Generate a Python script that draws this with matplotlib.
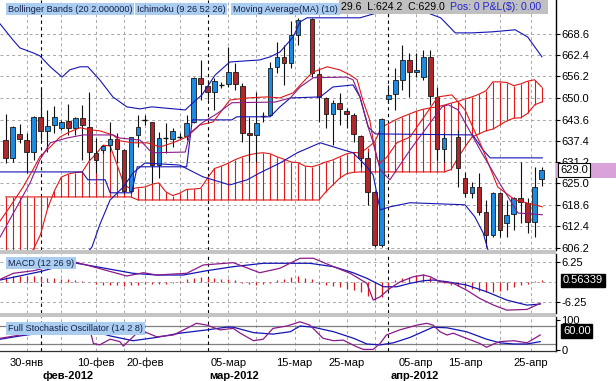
import numpy as np
import matplotlib
matplotlib.use("Agg")
import matplotlib.pyplot as plt
from matplotlib.patches import Rectangle
from matplotlib.transforms import blended_transform_factory

plt.rcParams['font.family'] = ['Liberation Sans', 'DejaVu Sans']

W, H = 616, 381

# ---------------- candles (slot = session index, 43 and 64 empty) ----------------
c_slot = list(range(0, 43)) + list(range(44, 64)) + list(range(65, 78))
c_open = [637.6, 632.4, 639.4, 637.6, 634.1, 644.4, 640.3, 642.0, 641.2, 643.2,
          641.2, 644.1, 641.4, 633.9, 634.7, 636.2, 637.9, 634.7, 622.8, 639.1,
          643.5, 642.9, 630.3, 638.2, 637.9, 638.5, 638.8, 642.9, 655.8, 653.4,
          651.7, 653.7, 654.0, 657.5, 653.4, 639.7, 639.1, 644.7, 644.9, 658.9,
          661.9, 660.1, 668.3,
          673.0, 656.9, 649.9, 645.2, 648.5, 646.1, 644.9, 638.8, 632.4, 622.5,
          607.0, 649.6, 651.1, 655.2, 661.0, 657.5, 656.0, 661.9, 650.2, 635.0,
          638.5, 626.6, 622.2, 623.9, 616.6, 609.9, 622.2, 613.4, 616.0, 620.7,
          619.2, 613.7, 626.3]
c_close = [632.4, 641.4, 637.9, 634.1, 644.4, 640.3, 641.7, 644.4, 642.9, 641.2,
           644.1, 642.0, 634.1, 631.8, 635.9, 637.9, 635.0, 622.8, 638.5, 641.4,
           643.5, 630.3, 638.2, 638.2, 640.3, 638.5, 642.6, 655.8, 654.0, 651.7,
           654.9, 653.7, 657.5, 654.0, 639.7, 639.1, 642.6, 644.7, 658.7, 661.9,
           660.1, 668.3, 672.7,
           657.2, 650.2, 645.2, 648.5, 646.7, 645.2, 639.4, 632.4, 622.5, 607.0,
           643.8, 650.8, 655.2, 661.0, 657.5, 658.1, 661.9, 650.5, 635.0, 638.2,
           629.5, 622.2, 623.9, 616.6, 609.9, 622.2, 611.4, 615.7, 620.7, 619.5,
           613.7, 623.9, 629.0]
c_high = [645.2, 641.7, 642.3, 639.7, 644.7, 652.5, 646.4, 647.6, 643.5, 648.2,
          644.4, 647.9, 651.7, 638.2, 636.2, 642.9, 639.7, 634.9, 638.5, 644.9,
          645.0, 643.0, 640.0, 642.6, 641.2, 639.7, 644.9, 656.0, 661.0, 655.2,
          655.8, 654.6, 664.8, 660.1, 654.3, 644.4, 651.7, 645.8, 660.4, 666.3,
          665.4, 672.4, 673.3,
          673.1, 658.7, 650.2, 649.3, 651.4, 647.0, 645.5, 639.1, 634.1, 622.6,
          643.9, 653.7, 658.7, 665.4, 663.1, 663.1, 663.9, 663.9, 653.1, 639.7,
          640.6, 628.3, 625.4, 628.0, 620.1, 622.5, 622.5, 620.1, 621.0, 631.2,
          620.7, 629.8, 629.6]
c_low = [630.9, 631.2, 636.8, 628.0, 631.8, 637.6, 634.1, 639.7, 640.6, 639.1,
         639.1, 631.8, 631.8, 628.0, 633.9, 634.1, 630.9, 622.2, 622.2, 635.6,
         642.0, 625.1, 626.6, 633.9, 635.6, 637.6, 637.6, 642.6, 649.3, 649.3,
         646.4, 652.8, 653.1, 652.2, 637.1, 631.2, 631.2, 642.9, 644.7, 657.2,
         653.7, 658.7, 665.4,
         656.0, 642.9, 641.2, 636.2, 642.0, 641.2, 637.1, 629.8, 618.7, 606.4,
         606.4, 648.5, 646.4, 652.2, 650.2, 656.0, 655.2, 647.9, 631.8, 631.2,
         623.9, 621.0, 620.7, 615.7, 606.4, 609.3, 609.3, 609.3, 611.4, 613.4,
         610.5, 609.3, 624.2]

# ---------------- Ichimoku cloud, one value per slot 0..77 ----------------
span_a = [601.3, 601.6, 602.0, 603.5, 605.8, 610.0, 617.5, 622.8, 626.8, 627.7,
          628.1, 628.3, 631.5, 633.6, 636.1, 635.9, 630.4, 624.6, 623.3, 623.7,
          623.9, 624.7, 625.1, 622.5, 621.4, 622.1, 623.2, 623.3, 623.5, 626.5,
          629.3, 630.0, 630.9, 631.9, 632.7, 633.3, 633.7, 633.9, 633.6, 632.7,
          632.0, 631.2, 631.0, 630.0, 629.8, 630.4, 631.2, 631.8, 632.7, 633.6,
          634.0, 633.8, 635.4, 637.0, 641.4, 642.4, 643.5, 644.4, 645.2, 646.0,
          646.6, 647.0, 647.3, 647.8, 648.4, 648.9, 649.6, 650.2, 651.0, 652.0,
          654.6, 654.6, 654.4, 653.5, 654.0, 654.8, 655.2, 653.1]
span_b = [621.0, 621.0, 621.0, 621.0, 621.0, 621.0, 621.0, 621.0, 621.0, 621.0,
          621.0, 621.0, 621.0, 621.0, 621.0, 621.0, 621.0, 621.0, 621.0, 620.1,
          620.1, 620.1, 620.1, 620.1, 620.1, 620.1, 620.1, 620.1, 620.1, 620.1,
          620.1, 620.1, 620.1, 620.1, 620.1, 620.1, 620.1, 620.1, 620.1, 620.1,
          620.1, 620.1, 620.1, 620.1, 620.1, 620.1, 622.5, 624.5, 626.5, 627.8,
          628.2, 628.3, 628.3, 628.3, 628.3, 628.3, 628.3, 628.3, 628.3, 628.3,
          628.3, 628.3, 628.3, 628.3, 629.0, 632.5, 635.6, 638.5, 639.4, 640.3,
          640.8, 642.0, 643.2, 644.0, 644.1, 645.4, 647.9, 648.7]

# ---------------- indicator lines (slot, value) ----------------
bb_up_s = [-0.8, 1.05, 2.05, 3.9, 4.9, 6.4, 8.1, 9.2, 10.7, 11.8, 13.5, 15.4, 17.4, 19.3,
           21.0, 25.8, 26.9, 28.2, 30.1, 32.2, 36.5, 38.0, 39.4, 41.3, 42.3, 43.3, 50.9,
           53.8, 56.6, 59.5, 62.5, 64.6, 67.0, 69.9, 73.2, 75.0, 77.05]
bb_up_v = [671.5, 666.8, 664.5, 663.1, 662.2, 659.0, 656.0, 658.1, 659.0, 659.0, 655.2,
           650.2, 647.3, 646.7, 647.3, 646.4, 648.5, 650.8, 656.6, 660.4, 661.0, 661.9,
           663.3, 667.7, 672.1, 673.3, 673.3, 675.0, 676.2, 675.6, 673.3, 668.9, 668.9,
           669.2, 669.8, 667.7, 661.9]
bb_lo_s = [11.8, 12.4, 13.5, 15.0, 16.9, 18.3, 20.0, 25.0, 28.3, 32.2, 34.7, 36.5, 39.4,
           41.9, 45.2, 47.6, 49.9, 51.9, 52.8, 53.8, 55.2, 58.1, 66.0, 67.4, 68.6, 69.3, 69.9]
bb_lo_v = [604.9, 606.4, 612.8, 620.1, 623.9, 628.0, 630.9, 630.3, 626.9, 624.5, 626.0,
           628.0, 630.9, 633.9, 636.8, 635.3, 633.9, 629.8, 627.4, 617.2, 618.1, 619.3,
           618.7, 615.2, 610.5, 605.5, 602.0]
kijun_s = [-0.8, 11.0, 11.8, 14.3, 15.0, 18.1, 18.9, 26.0, 26.8, 32.5, 33.2, 38.0, 39.4,
           40.9, 45.2, 47.0, 49.9, 50.9, 52.1, 53.1, 67.1, 68.6, 69.6, 77.1]
kijun_v = [628.3, 628.3, 626.0, 626.0, 622.2, 622.2, 629.8, 629.8, 643.5, 643.5, 644.4,
           644.4, 647.3, 649.9, 650.2, 653.1, 653.7, 650.2, 641.4, 639.4, 639.1, 634.7,
           632.4, 632.4]
ma10_s = [-0.8, 0.6, 2.5, 3.9, 4.9, 6.4, 7.8, 9.2, 10.7, 12.1, 13.5, 15.4, 16.4, 18.3,
          20.3, 22.2, 24.0, 26.0, 27.9, 29.8, 32.2, 34.7, 37.5, 39.4, 41.3, 43.3, 44.2,
          46.2, 48.0, 49.5, 50.5, 51.3, 52.3, 52.8, 53.4, 53.8, 54.8, 56.2, 58.1, 62.1,
          64.1, 66.0, 68.4, 70.7, 73.2, 77.1]
ma10_v = [614.0, 618.1, 623.9, 628.9, 632.7, 635.6, 638.5, 640.0, 641.2, 640.6, 640.3,
          639.1, 637.4, 636.8, 636.8, 635.6, 636.8, 638.5, 642.0, 642.9, 649.3, 649.9,
          650.2, 649.9, 651.4, 655.8, 657.5, 659.0, 658.1, 656.6, 655.2, 649.3, 643.5,
          637.6, 631.8, 630.9, 632.7, 636.8, 638.5, 650.2, 650.8, 646.4, 635.6, 623.9,
          620.1, 618.1]
tenkan_s = [-0.8, 1.6, 3.5, 4.9, 6.4, 8.8, 11.1, 15.4, 16.4, 19.3, 21.0, 25.8, 26.5,
            28.2, 30.5, 32.5, 38.7, 40.9, 42.3, 44.2, 49.0, 49.9, 50.9, 51.9, 52.8, 53.8,
            55.2, 58.1, 62.7, 63.6, 65.0, 68.4, 71.3, 73.6, 77.1]
tenkan_v = [609.3, 618.1, 625.1, 631.8, 636.8, 638.2, 639.1, 639.1, 638.2, 637.6, 633.9,
            634.1, 639.7, 642.6, 645.5, 648.5, 648.7, 649.9, 653.1, 655.8, 656.0, 655.2,
            650.2, 642.6, 636.8, 628.9, 626.0, 634.7, 647.3, 647.9, 646.4, 633.9, 623.9,
            616.3, 615.8]

# ---------------- MACD (12 26 9) ----------------
macd_s = [-0.8, 1.1, 4.0, 9.7, 11.6, 17.4, 19.8, 21.7, 26.0, 28.4, 32.7, 36.5, 39.4, 42.3,
          44.2, 47.1, 49.5, 51.9, 52.8, 53.8, 55.2, 56.7, 58.6, 60.0, 61.0, 62.4, 64.3,
          66.2, 68.1, 70.1, 72.0, 74.9, 76.8]
macd_v = [0.83, 2.68, 3.48, 6.25, 5.23, 1.85, 2.86, 2.15, 2.68, 5.23, 5.94, 2.86, 4.22,
          7.29, 7.29, 4.71, 2.68, -0.40, -5.54, -4.52, -1.94, 0.09, 1.63, 2.15, 1.63, 0.09,
          -0.40, -2.46, -5.02, -7.08, -8.62, -8.40, -6.55]
signal_s = [-0.8, 4.9, 9.7, 13.5, 18.3, 21.7, 25.5, 28.9, 32.7, 37.0, 43.7, 47.1, 49.9,
            51.9, 54.3, 56.2, 58.1, 60.0, 61.4, 63.4, 66.2, 69.1, 72.0, 74.9, 76.8]
signal_v = [0.62, 3.17, 5.94, 4.52, 2.68, 2.15, 2.15, 3.48, 4.71, 5.75, 5.75, 4.71, 2.86,
            1.14, -1.45, -1.45, -0.40, 0.40, 0.62, 0.09, -0.92, -2.98, -5.54, -7.08, -6.77]
hist_v = [1.6, 1.7, 1.8, 1.8, 1.7, 1.6, 1.3, 1.2, 1.0, 0.8,
          0.6, 0.2, 0.1, -0.6, -0.8, -0.8, -0.9, -1.2, -1.0, -0.8,
          -0.7, -0.6, -0.5, -0.5, -0.4, 0.3, 1.0, 1.3, 1.4, 1.3,
          1.2, 1.0, 0.9, 0.6, -0.3, -0.6, -0.8, -0.7, -0.3, 0.5,
          0.9, 1.4, 1.8, 1.3, 0.9, -0.5, -0.8, -1.2, -1.5, -2.0,
          -2.5, -3.2, -4.3, -5.4, -4.5, -2.5, 0.5, 1.2, 1.6, 2.2,
          2.4, 1.5, 0.3, -0.4, -0.8, -1.2, -1.8, -2.2, -2.8, -3.0,
          -3.0, -2.8, -2.5, -1.5, -0.8, -0.5, 0.2, 0.56]

# ---------------- Full stochastic (14 2 8) ----------------
stk_s = [-0.8, 2.1, 4.9, 7.8, 12.1, 12.6, 13.5, 15.0, 16.4, 16.9, 18.3, 19.3, 21.7, 24.1,
         26.5, 27.4, 28.9, 30.8, 32.7, 33.7, 35.6, 37.0, 38.4, 40.4, 42.3, 43.7, 45.6,
         47.1, 48.5, 50.4, 51.4, 52.8, 53.8, 54.7, 56.6, 59.1, 60.5, 61.4, 62.4, 63.4,
         64.3, 66.2, 68.1, 69.1, 70.1, 71.0, 73.0, 74.9, 76.8]
stk_v = [39, 50, 56, 61, 67, 22, 17, 36, 28, 13, 44, 67, 44, 50, 78, 89, 83, 67, 72, 56,
         31, 36, 72, 80, 94, 83, 39, 31, 33, 11, 2, 2, 22, 50, 67, 83, 89, 83, 61, 50,
         56, 39, 22, 9, 20, 28, 31, 24, 50]
std_s = [-0.8, 2.1, 4.9, 12.1, 15.0, 18.3, 21.7, 25.0, 28.9, 31.7, 32.7, 35.6, 38.4, 40.9,
         42.3, 44.2, 47.1, 50.0, 51.9, 53.8, 55.7, 58.1, 61.4, 63.4, 66.2, 69.1, 71.0,
         73.0, 74.9, 76.8]
std_v = [36, 47, 56, 67, 47, 31, 42, 56, 67, 76, 76, 58, 53, 61, 80, 76, 61, 39, 20, 17,
         24, 42, 76, 74, 61, 36, 24, 20, 20, 28]

# ---------------- axis text ----------------
price_ticks = [606.2, 612.4, 618.6, 625.0, 631.2, 637.4, 643.6, 650.0, 656.2, 662.4, 668.6]
date_slots = [3, 13, 20, 32, 41.5, 49, 59, 66, 75.5]
date_labels = ['30-янв', '10-фев', '20-фев', '05-мар', '15-мар', '25-мар',
               '05-апр', '15-апр', '25-апр']
grid_slots = [3, 8, 13, 17, 20, 25, 32, 36, 41.5, 45, 49, 53, 59, 62, 66, 71, 75.5]
month_slots = [5, 29, 55]
month_labels = ['фев-2012', 'мар-2012', 'апр-2012']

BLUE_C = '#1c8ae0'
RED_C = '#b0262a'
LINE_BLUE = '#1414b4'
LINE_RED = '#e01818'
PURPLE = '#8a1a8a'
GRID = '#a8a8a8'
LEG_BG = '#abcdf0'

fig = plt.figure(figsize=(W / 100, H / 100), dpi=100)
fig.patch.set_facecolor('white')

def px_axes(top, bottom):
    return fig.add_axes([0, 1 - bottom / H, 556 / W, (bottom - top) / H])

ax = px_axes(0, 250)
mx = px_axes(254, 313)
sx = px_axes(317, 351)

xlim = (-0.82, 79.07)
for a in (ax, mx, sx):
    a.set_xlim(*xlim)
    a.set_facecolor('white')
    for sp in ('top', 'left', 'bottom'):
        a.spines[sp].set_visible(False)
    a.spines['right'].set_linewidth(1.0)
    a.yaxis.tick_right()
    a.tick_params(axis='y', direction='out', length=3, width=0.8, pad=1, labelsize=8)
    a.tick_params(axis='x', length=0, labelbottom=False)
    for g in grid_slots:
        a.axvline(g, color=GRID, lw=0.7, dashes=(3, 3), zorder=0)
    for m in month_slots:
        a.axvline(m, color='black', lw=0.8, dashes=(3, 3), zorder=1)

# ---------------- main price panel ----------------
ax.set_ylim(605.5, 678.5)
ax.set_yticks(price_ticks)
ax.set_yticklabels(['%.1f' % t for t in price_ticks])
for t in price_ticks:
    ax.axhline(t, color=GRID, lw=0.7, dashes=(3, 3), zorder=0)

slots = np.arange(len(span_a))
sa = np.array(span_a)
sb = np.array(span_b)
ax.vlines(slots, np.minimum(sa, sb), np.maximum(sa, sb), color=LINE_RED, lw=0.8, zorder=1)
ax.plot(slots, sa, color=LINE_RED, lw=0.8, zorder=1)
ax.plot(slots, sb, color=LINE_RED, lw=0.8, zorder=1)

o = np.array(c_open)
c = np.array(c_close)
hi = np.array(c_high)
lo = np.array(c_low)
s = np.array(c_slot)
ax.vlines(s, lo, hi, color='#101010', lw=0.8, zorder=3)
body = np.abs(c - o)
doji = body < 0.3
cols = np.where(c >= o, BLUE_C, RED_C)
ax.bar(s[~doji], body[~doji], bottom=np.minimum(o, c)[~doji], width=0.66,
       color=cols[~doji], edgecolor='#1a1a1a', linewidth=0.6, zorder=4)
ax.hlines(c[doji], s[doji] - 0.35, s[doji] + 0.35, color='#101010', lw=1.0, zorder=4)

ax.plot(bb_up_s, bb_up_v, color=LINE_BLUE, lw=0.8, zorder=5)
ax.plot(bb_lo_s, bb_lo_v, color=LINE_BLUE, lw=0.8, zorder=5)
ax.plot(kijun_s, kijun_v, color=LINE_BLUE, lw=0.8, zorder=5)
ax.plot(ma10_s, ma10_v, color=LINE_RED, lw=0.8, zorder=5)
ax.plot(tenkan_s, tenkan_v, color=PURPLE, lw=0.8, zorder=5)

# last price marker on the right
tr = blended_transform_factory(ax.transAxes, ax.transData)
ax.add_patch(Rectangle((1.0, 626.6), 60 / 556, 4.4, transform=tr, clip_on=False,
                       facecolor='#d9a2d9', edgecolor='none', zorder=6))
ax.text(1.0 + 4 / 556, c_close[-1], '%.1f' % c_close[-1], transform=tr, fontsize=8,
        va='center', ha='left', zorder=8,
        bbox=dict(boxstyle='square,pad=0.18', fc='white', ec='black', lw=0.8))

# ---------------- MACD panel ----------------
mx.set_ylim(-9.5, 8.6)
mx.set_yticks([-6.25, 6.25])
mx.set_yticklabels(['-6.25', '6.25'])
for t in (-6.25, 0, 6.25):
    mx.axhline(t, color=GRID, lw=0.7, dashes=(3, 3), zorder=0)
mx.vlines(slots, 0, hist_v, color=LINE_RED, lw=0.9, zorder=2)
mx.plot(signal_s, signal_v, color=LINE_BLUE, lw=0.9, zorder=3)
mx.plot(macd_s, macd_v, color=PURPLE, lw=0.9, zorder=3)
trm = blended_transform_factory(mx.transAxes, mx.transData)
mx.text(1.0 + 7 / 556, hist_v[-1], '0.56339', transform=trm, fontsize=8, color='white',
        va='center', ha='left', zorder=8,
        bbox=dict(boxstyle='square,pad=0.15', fc='black', ec='black'))
mx.text(8 / 556, 1 - 9 / 59, 'MACD (12 26 9)', transform=mx.transAxes, fontsize=6.6,
        ha='left', va='center', color='#14204a', zorder=9,
        bbox=dict(boxstyle='square,pad=0.2', fc=LEG_BG, ec='none'))

# ---------------- stochastic panel ----------------
sx.set_ylim(-3.3, 110)
sx.set_yticks([0, 100])
sx.set_yticklabels(['0', '100'])
sx.axhline(80, color='#808080', lw=0.9, zorder=0)
sx.axhline(20, color='#808080', lw=0.9, zorder=0)
sx.spines['bottom'].set_visible(True)
sx.spines['bottom'].set_color('#303030')
sx.spines['bottom'].set_linewidth(0.9)
sx.plot(std_s, std_v, color=LINE_BLUE, lw=0.9, zorder=3)
sx.plot(stk_s, stk_v, color=PURPLE, lw=0.9, zorder=3)
trs = blended_transform_factory(sx.transAxes, sx.transData)
sx.text(1.0 + 7 / 556, 63, '60.00', transform=trs, fontsize=8, color='white',
        va='center', ha='left', zorder=8,
        bbox=dict(boxstyle='square,pad=0.15', fc='black', ec='black'))
sx.text(8 / 556, 1 - 11.5 / 34, 'Full Stochastic Oscillator (14 2 8)', transform=sx.transAxes,
        fontsize=6.6, ha='left', va='center', color='#14204a', zorder=9,
        bbox=dict(boxstyle='square,pad=0.2', fc=LEG_BG, ec='none'))

sx.set_xticks(date_slots)
sx.set_xticklabels(date_labels)
sx.tick_params(axis='x', length=0, pad=5, labelsize=8, labelbottom=True)
trx = blended_transform_factory(sx.transData, sx.transAxes)
for m, lab in zip(month_slots, month_labels):
    sx.text(m + 0.3, -0.74, lab, transform=trx, fontsize=8, fontweight='bold',
            ha='left', va='center')

# ---------------- panel separators ----------------
for top in (250, 313):
    fig.patches.append(Rectangle((0, 1 - (top + 4) / H), 556 / W, 4 / H,
                                 transform=fig.transFigure, facecolor='#c4c4c4',
                                 edgecolor='none', zorder=10))

# ---------------- header / legend boxes ----------------
fig.patches.append(Rectangle((339 / W, 1 - 14 / H), 209 / W, 14 / H,
                             transform=fig.transFigure, facecolor='#c0c0c0',
                             edgecolor='none', zorder=10))
fig.text(341 / W, 1 - 7.5 / H, '29.6  L:624.2  C:629.0', fontsize=7.6,
         ha='left', va='center', color='black', zorder=11)
fig.text(450 / W, 1 - 7.5 / H, 'Pos: 0 P&L($): 0.00', fontsize=7.6,
         ha='left', va='center', color='#2424d0', zorder=11)
legend_items = [('Bollinger Bands (20 2.000000)', 8), ('Ichimoku (9 26 52 26)', 137),
                ('Moving Average(MA) (10)', 233)]
for txt, x0 in legend_items:
    fig.text(x0 / W, 1 - 9 / H, txt, fontsize=6.6, ha='left', va='center',
             color='#14204a', zorder=12,
             bbox=dict(boxstyle='square,pad=0.2', fc=LEG_BG, ec='none'))

fig.savefig('out.png', dpi=100)
